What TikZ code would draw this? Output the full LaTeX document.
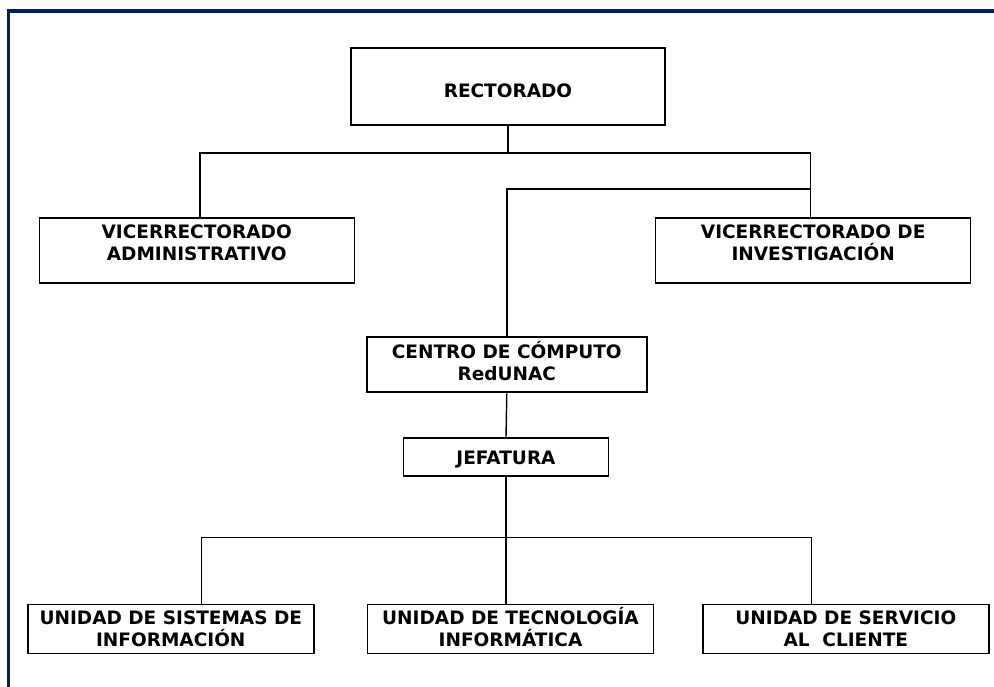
\documentclass[tikz,border=0pt]{standalone}
\usepackage{fontspec}
\setmainfont{DejaVu Sans}
\usepackage{xcolor}
\usetikzlibrary{positioning,calc}

\definecolor{marco}{HTML}{002060}

\tikzset{
  caja/.style={draw, rectangle, line width=1.4pt, inner sep=0pt, align=center,
    font=\fontsize{18.5}{22}\selectfont\bfseries},
  conector/.style={draw, line width=1.4pt},
}

\begin{document}
\begin{tikzpicture}[x=1pt,y=-1pt]
				\useasboundingbox (0,0) rectangle (994,687);
				% marco
				\draw[marco, line width=3.5pt] (8.7,687) -- (8.7,10.8) -- (994,10.8);
				
				% Rectorado
				\node[caja, minimum width=314, minimum height=77, text height=23pt] (rect) at (508,86.4) {RECTORADO};
				
				% Vicerrectorados
				\node[caja, minimum width=315, minimum height=65, text depth=15pt] (viceadm) at (196.7,250.5) {VICERRECTORADO\\ADMINISTRATIVO};
				\node[caja, minimum width=315, minimum height=65, text depth=15pt] (vicinv) at (813.2,250.5) {VICERRECTORADO DE\\INVESTIGACIÓN};
				
				% Centro de computo
				\node[caja, line width=2.6pt, minimum width=280, minimum height=55, text height=32pt] (centro) at (506.8,364.5) {CENTRO DE CÓMPUTO\\RedUNAC};
				\node[caja, minimum width=205, minimum height=38, text height=19pt] (jefe) at (506,457) {JEFATURA};
				
				% Unidades
				\node[caja, minimum width=286, minimum height=49, text height=35.5pt] (unisis) at (170.8,628.7) {UNIDAD DE SISTEMAS DE\\INFORMACIÓN};
				\node[caja, minimum width=286, minimum height=49, text height=35.5pt] (unitec) at (510.5,628.7) {UNIDAD DE TECNOLOGÍA\\INFORMÁTICA};
				\node[caja, minimum width=286, minimum height=49, text height=35.5pt] (uniser) at (845.8,628.7) {UNIDAD DE SERVICIO\\AL\ \ CLIENTE};
				
				% ramas
				\coordinate (barraI) at (200,153);
				\coordinate (barraD) at (810.7,153);
				\coordinate (ramal) at (810.7,189);
				\coordinate (ramaI) at (201.7,537.3);
				\coordinate (ramaD) at (811.7,537.3);
				
				\draw[conector] (rect.south) -- (rect.south |- barraI);
				\draw[conector] (viceadm.north -| barraI) -- (barraI) -- (barraD) -- (vicinv.north -| barraD);
				\draw[conector] (centro.north) |- (ramal);
				\draw[conector] (centro.south) -- (jefe.north);
				\draw[conector] (jefe.south) -- (jefe.south |- unitec.north);
				\draw[conector] (unisis.north -| ramaI) -- (ramaI) -- (ramaD) -- (uniser.north -| ramaD);
			\end{tikzpicture}
\end{document}
